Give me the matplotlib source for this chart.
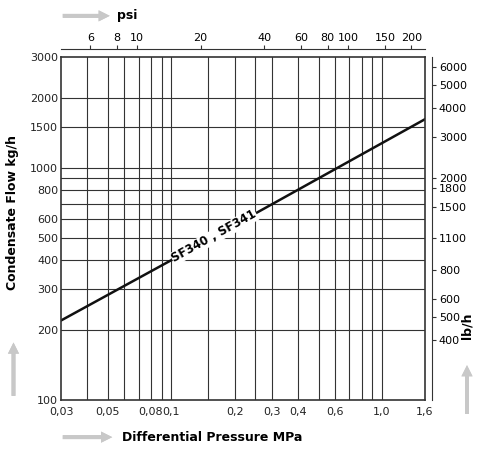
import numpy as np
import matplotlib.pyplot as plt
from matplotlib.ticker import FixedLocator, NullLocator

# data
dp_mpa = [0.03, 0.1, 1.6]
flow_kg = [220, 400, 1620]

x_ticks = [0.03, 0.05, 0.08, 0.1, 0.2, 0.3, 0.4, 0.6, 1.0, 1.6]
x_labels = ["0,03", "0,05", "0,08", "0,1", "0,2", "0,3", "0,4", "0,6", "1,0", "1,6"]
x_grid = [0.04, 0.05, 0.06, 0.07, 0.08, 0.09, 0.1, 0.15, 0.2, 0.25,
          0.3, 0.4, 0.5, 0.6, 0.7, 0.8, 0.9, 1.0]
y_ticks = [100, 200, 300, 400, 500, 600, 800, 1000, 1500, 2000, 3000]
y_grid = [200, 300, 400, 500, 600, 700, 800, 900, 1000, 1500, 2000]
psi_ticks = [6, 8, 10, 20, 40, 60, 80, 100, 150, 200]
lb_ticks = [400, 500, 600, 800, 1100, 1500, 1800, 2000, 3000, 4000, 5000, 6000]

col = "#333333"
plt.rcParams['font.family'] = ['DejaVu Sans']
plt.rcParams['font.size'] = 8

fig = plt.figure(figsize=(5, 4.53), dpi=100)
ax = fig.add_axes([0.122, 0.117, 0.728, 0.757])
ax.set_xscale('log')
ax.set_yscale('log')
ax.set_xlim(0.03, 1.6)
ax.set_ylim(100, 3000)

for g in x_grid:
    ax.axvline(g, color=col, lw=0.8)
for g in y_grid:
    ax.axhline(g, color=col, lw=0.8)

ax.plot(dp_mpa, flow_kg, color="#111111", lw=1.8)
ax.text(0.16, 506, "SF340 , SF341", rotation=29, ha='center', va='center',
        fontsize=8.5, fontweight='bold', rotation_mode='anchor',
        bbox=dict(facecolor='white', edgecolor='none', pad=0.3))

ax.xaxis.set_major_locator(FixedLocator(x_ticks))
ax.set_xticklabels(x_labels)
ax.xaxis.set_minor_locator(NullLocator())
ax.yaxis.set_major_locator(FixedLocator(y_ticks))
ax.set_yticklabels([str(v) for v in y_ticks])
ax.yaxis.set_minor_locator(NullLocator())
ax.tick_params(length=0, pad=2, colors="#222222")
ax.tick_params(axis='x', pad=5)
for s in ax.spines.values():
    s.set_color(col)
    s.set_linewidth(1.2)

top = ax.secondary_xaxis('top', functions=(lambda x: x * 145.04, lambda p: p / 145.04))
top.spines['top'].set_position(('outward', 6))
top.xaxis.set_major_locator(FixedLocator(psi_ticks))
top.xaxis.set_minor_locator(NullLocator())
top.set_xticklabels([str(v) for v in psi_ticks])
top.tick_params(length=3, pad=1, color=col)
top.spines['top'].set_color(col)

right = ax.secondary_yaxis('right', functions=(lambda y: y * 2.2046, lambda l: l / 2.2046))
right.spines['right'].set_position(('outward', 5))
right.yaxis.set_major_locator(FixedLocator(lb_ticks))
right.yaxis.set_minor_locator(NullLocator())
right.set_yticklabels([str(v) for v in lb_ticks])
right.tick_params(length=3, pad=2, color=col)
right.spines['right'].set_color(col)

fig.text(0.245, 0.035, "Differential Pressure MPa", fontsize=9, fontweight='bold', va='center')
fig.text(0.025, 0.53, "Condensate Flow kg/h", fontsize=9, fontweight='bold', rotation=90, ha='center', va='center')
fig.text(0.934, 0.28, "lb/h", fontsize=9, fontweight='bold', rotation=90, ha='center', va='center')
fig.text(0.235, 0.965, "psi", fontsize=9, fontweight='bold', va='center')

arrow = dict(arrowstyle='simple,head_width=1.0,head_length=1.0,tail_width=0.35', color='#c8c8c8', lw=0)
fig.add_artist(plt.annotate("", xy=(0.225, 0.965), xytext=(0.12, 0.965), xycoords='figure fraction', arrowprops=arrow))
fig.add_artist(plt.annotate("", xy=(0.23, 0.035), xytext=(0.12, 0.035), xycoords='figure fraction', arrowprops=arrow))
fig.add_artist(plt.annotate("", xy=(0.027, 0.25), xytext=(0.027, 0.12), xycoords='figure fraction', arrowprops=arrow))
fig.add_artist(plt.annotate("", xy=(0.934, 0.2), xytext=(0.934, 0.08), xycoords='figure fraction', arrowprops=arrow))

fig.savefig("out.png", dpi=100)
